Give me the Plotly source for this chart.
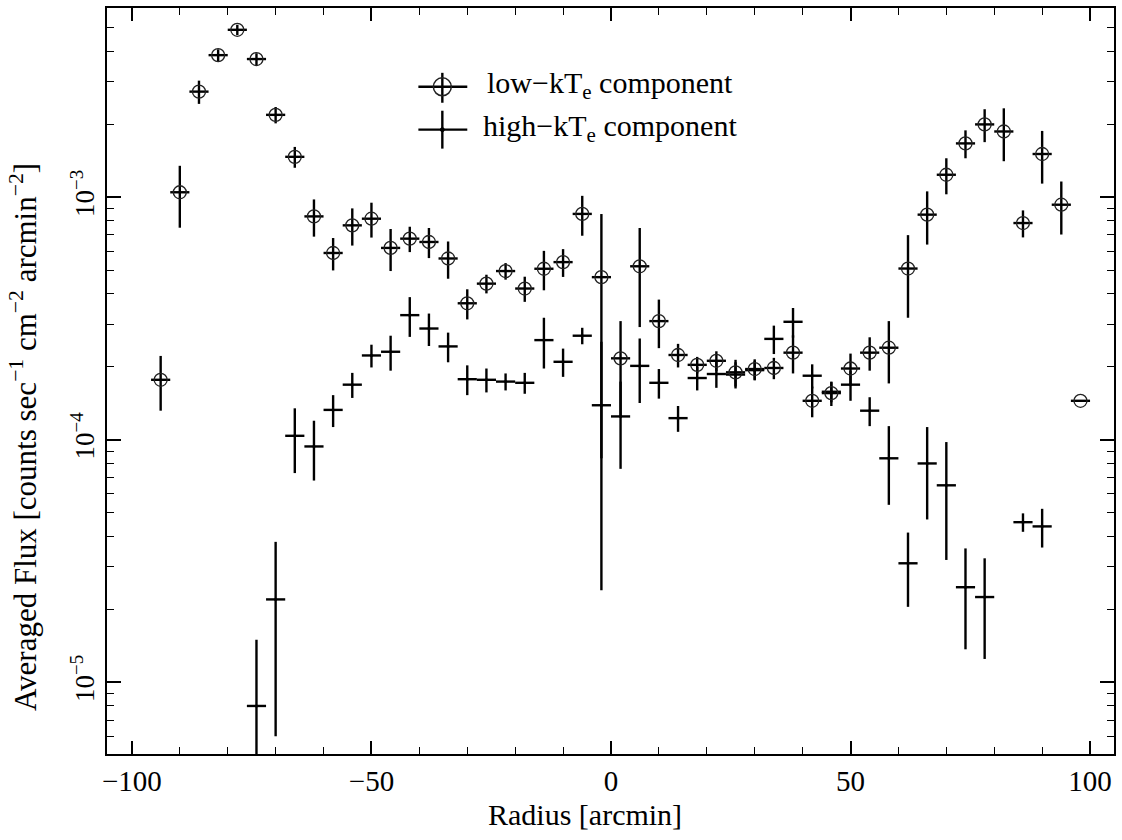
import plotly.graph_objects as go

# ---- data ----
radius_low = [-94, -90, -86, -82, -78, -74, -70, -66, -62, -58, -54, -50, -46, -42, -38, -34,
              -30, -26, -22, -18, -14, -10, -6, -2, 2, 6, 10, 14, 18, 22, 26, 30, 34, 38,
              42, 46, 50, 54, 58, 62, 66, 70, 74, 78, 82, 86, 90, 94, 98]
flux_low = [1.77e-4, 1.05e-3, 2.73e-3, 3.86e-3, 4.91e-3, 3.72e-3, 2.19e-3, 1.47e-3, 8.35e-4,
            5.9e-4, 7.67e-4, 8.17e-4, 6.19e-4, 6.76e-4, 6.55e-4, 5.6e-4, 3.66e-4, 4.41e-4,
            4.97e-4, 4.21e-4, 5.08e-4, 5.41e-4, 8.55e-4, 4.69e-4, 2.17e-4, 5.2e-4, 3.09e-4,
            2.24e-4, 2.04e-4, 2.12e-4, 1.9e-4, 1.96e-4, 1.98e-4, 2.29e-4, 1.45e-4, 1.56e-4,
            1.97e-4, 2.29e-4, 2.4e-4, 5.09e-4, 8.49e-4, 1.24e-3, 1.67e-3, 2.0e-3, 1.87e-3,
            7.84e-4, 1.51e-3, 9.33e-4, 1.45e-4]
err_low = [4.5e-5, 3.0e-4, 3.0e-4, 2.2e-4, 2.4e-4, 2.1e-4, 1.7e-4, 1.45e-4, 1.46e-4, 9.0e-5,
           1.34e-4, 1.34e-4, 1.22e-4, 8.1e-5, 9.3e-5, 9.8e-5, 5.2e-5, 3.9e-5, 3.9e-5, 5.0e-5,
           9.4e-5, 7.1e-5, 1.6e-4, 3.85e-4, 9.2e-5, 2.28e-4, 7.0e-5, 2.5e-5, 1.6e-5, 2.0e-5,
           2.4e-5, 1.9e-5, 2.0e-5, 4.1e-5, 2.1e-5, 1.8e-5, 3.0e-5, 3.6e-5, 6.9e-5, 1.9e-4,
           2.1e-4, 2.1e-4, 2.2e-4, 3.1e-4, 4.6e-4, 1.0e-4, 3.7e-4, 2.3e-4, 0.0]

radius_high = [-74, -70, -66, -62, -58, -54, -50, -46, -42, -38, -34, -30, -26, -22, -18, -14,
               -10, -6, -2, 2, 6, 10, 14, 18, 22, 26, 30, 34, 38, 42, 46, 50, 54, 58, 62, 66,
               70, 74, 78, 86, 90]
flux_high = [8.0e-6, 2.2e-5, 1.04e-4, 9.4e-5, 1.33e-4, 1.69e-4, 2.23e-4, 2.31e-4, 3.27e-4,
             2.88e-4, 2.43e-4, 1.78e-4, 1.77e-4, 1.74e-4, 1.72e-4, 2.58e-4, 2.1e-4, 2.69e-4,
             1.39e-4, 1.25e-4, 2.02e-4, 1.72e-4, 1.23e-4, 1.8e-4, 1.87e-4, 1.86e-4, 1.94e-4,
             2.61e-4, 3.07e-4, 1.84e-4, 1.58e-4, 1.69e-4, 1.32e-4, 8.4e-5, 3.1e-5, 8.0e-5,
             6.5e-5, 2.47e-5, 2.25e-5, 4.58e-5, 4.4e-5]
err_high = [7e-6, 1.6e-5, 3.1e-5, 2.6e-5, 2.0e-5, 2.0e-5, 2.4e-5, 3.8e-5, 6.1e-5, 4.4e-5,
            3.4e-5, 2.5e-5, 2.0e-5, 1.4e-5, 1.7e-5, 6.1e-5, 2.8e-5, 2.1e-5, 1.15e-4, 4.9e-5,
            6.0e-5, 2.4e-5, 1.5e-5, 2.0e-5, 2.3e-5, 2.3e-5, 1.8e-5, 3.5e-5, 4.3e-5, 2.1e-5,
            1.5e-5, 2.4e-5, 1.8e-5, 3.0e-5, 1.05e-5, 3.3e-5, 3.3e-5, 1.1e-5, 1.0e-5, 4e-6, 8e-6]
bin_half_width = 2

x_ticks = [-100, -50, 0, 50, 100]
x_ticktext = ["\u2212100", "\u221250", "0", "50", "100"]
y_ticks = [1e-5, 1e-4, 1e-3]
y_ticktext = ["10<sup>\u22125</sup>", "10<sup>\u22124</sup>", "10<sup>\u22123</sup>"]

FONT = "Liberation Serif, Times New Roman, serif"
INK = "black"

fig = go.Figure()

fig.add_trace(go.Scatter(
    x=radius_high, y=flux_high, mode="markers", name="high-kTe component",
    marker=dict(symbol="circle", size=3, color=INK),
    error_y=dict(type="data", array=err_high, visible=True, color=INK, thickness=2.4, width=0),
    error_x=dict(type="constant", value=bin_half_width, visible=True, color=INK, thickness=2.4, width=0),
    showlegend=False, cliponaxis=True,
))
fig.add_trace(go.Scatter(
    x=radius_low, y=flux_low, mode="markers", name="low-kTe component",
    marker=dict(symbol="circle-open", size=13, color="#222", line=dict(width=1.3, color="#222")),
    error_y=dict(type="data", array=err_low, visible=True, color=INK, thickness=2.4, width=0),
    error_x=dict(type="constant", value=bin_half_width, visible=True, color=INK, thickness=2.4, width=0),
    showlegend=False, cliponaxis=True,
))

# plot-area geometry in pixels (for legend glyphs placed in paper coordinates)
W, H = 1122, 840
L, R, T, B = 107, 6, 6, 86
PW, PH = W - L - R, H - T - B


def px(xp):
    return (xp - L) / PW


def py(yp):
    return 1 - (yp - T) / PH


shapes = []
# legend glyph: low-kT (circle with cross)
gx, gy1, gy2 = 443, 85, 128
shapes += [
    dict(type="line", xref="paper", yref="paper", x0=px(419), x1=px(468), y0=py(gy1), y1=py(gy1),
         line=dict(color=INK, width=2.4)),
    dict(type="line", xref="paper", yref="paper", x0=px(gx), x1=px(gx), y0=py(71), y1=py(101),
         line=dict(color=INK, width=2.4)),
    dict(type="circle", xref="paper", yref="paper", x0=px(gx - 9), x1=px(gx + 9), y0=py(gy1 - 9),
         y1=py(gy1 + 9), line=dict(color="#222", width=1.5)),
    dict(type="line", xref="paper", yref="paper", x0=px(419), x1=px(468), y0=py(gy2), y1=py(gy2),
         line=dict(color=INK, width=2.4)),
    dict(type="line", xref="paper", yref="paper", x0=px(gx), x1=px(gx), y0=py(109), y1=py(147),
         line=dict(color=INK, width=2.4)),
    dict(type="circle", xref="paper", yref="paper", x0=px(gx - 2), x1=px(gx + 2), y0=py(gy2 - 2),
         y1=py(gy2 + 2), fillcolor=INK, line=dict(color=INK, width=1)),
]

annotations = [
    dict(text="low\u2212kT<sub>e</sub> component", xref="paper", yref="paper", x=px(486), y=py(gy1 - 2),
         xanchor="left", yanchor="middle", showarrow=False, font=dict(family=FONT, size=30, color=INK)),
    dict(text="high\u2212kT<sub>e</sub> component", xref="paper", yref="paper", x=px(482), y=py(gy2 - 2),
         xanchor="left", yanchor="middle", showarrow=False, font=dict(family=FONT, size=30, color=INK)),
    dict(text="Radius [arcmin]", xref="paper", yref="paper", x=px(586), y=py(815),
         xanchor="center", yanchor="middle", showarrow=False, font=dict(family=FONT, size=30, color=INK)),
    dict(text="Averaged Flux [counts sec<sup>\u22121</sup> cm<sup>\u22122</sup> arcmin<sup>\u22122</sup>]",
         xref="paper", yref="paper", x=px(24), y=py(436), textangle=-90,
         xanchor="center", yanchor="middle", showarrow=False, font=dict(family=FONT, size=31, color=INK)),
]

minor_y = [m * 10.0 ** e for e in (-6, -5, -4, -3) for m in range(2, 10)]

fig.update_layout(
    width=W, height=H,
    margin=dict(l=L, r=R, t=T, b=B, pad=0),
    paper_bgcolor="white", plot_bgcolor="white",
    font=dict(family=FONT, size=28, color=INK),
    shapes=shapes, annotations=annotations,
    showlegend=False,
)
fig.update_xaxes(
    range=[-105.2, 105.0], showgrid=False, zeroline=False,
    showline=True, linecolor=INK, linewidth=2, mirror="ticks",
    ticks="inside", ticklen=13, tickwidth=1.6, tickcolor=INK,
    tickvals=x_ticks, ticktext=x_ticktext, tickfont=dict(family=FONT, size=29, color=INK),
    minor=dict(ticks="inside", ticklen=7, tickwidth=1.4, tickcolor=INK, dtick=10, showgrid=False),
)
fig.update_yaxes(
    type="log", range=[-5.295, -2.219], showgrid=False, zeroline=False,
    showline=True, linecolor=INK, linewidth=2, mirror="ticks",
    ticks="inside", ticklen=14, tickwidth=1.6, tickcolor=INK,
    tickvals=y_ticks, ticktext=y_ticktext, tickangle=-90,
    tickfont=dict(family=FONT, size=27, color=INK),
    minor=dict(ticks="inside", ticklen=7, tickwidth=1.4, tickcolor=INK, tickvals=minor_y, showgrid=False),
)

fig.write_html("out.html")
